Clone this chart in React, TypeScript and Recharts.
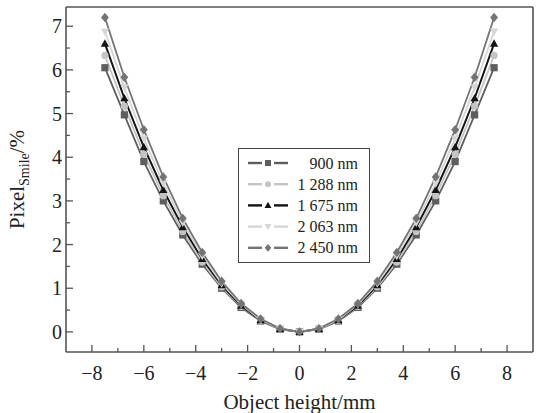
import React from 'react';
import { LineChart, Line, XAxis, YAxis, ReferenceLine } from 'recharts';

// Object height (mm) sample positions
const objectHeight = [-7.5, -6.75, -6, -5.25, -4.5, -3.75, -3, -2.25, -1.5, -0.75, 0, 0.75, 1.5, 2.25, 3, 3.75, 4.5, 5.25, 6, 6.75, 7.5];

// Pixel smile (%) per wavelength
const smile900 = [6.05, 4.97, 3.9, 3.0, 2.22, 1.55, 1.0, 0.56, 0.25, 0.06, 0, 0.06, 0.25, 0.56, 1.0, 1.55, 2.22, 3.0, 3.9, 4.97, 6.05];
const smile1288 = [6.33, 5.17, 4.07, 3.12, 2.3, 1.6, 1.03, 0.58, 0.26, 0.065, 0, 0.065, 0.26, 0.58, 1.03, 1.6, 2.3, 3.12, 4.07, 5.17, 6.33];
const smile1675 = [6.6, 5.35, 4.23, 3.25, 2.4, 1.67, 1.07, 0.6, 0.27, 0.07, 0, 0.07, 0.27, 0.6, 1.07, 1.67, 2.4, 3.25, 4.23, 5.35, 6.6];
const smile2063 = [6.88, 5.6, 4.43, 3.4, 2.5, 1.74, 1.11, 0.63, 0.28, 0.07, 0, 0.07, 0.28, 0.63, 1.11, 1.74, 2.5, 3.4, 4.43, 5.6, 6.88];
const smile2450 = [7.2, 5.83, 4.63, 3.55, 2.6, 1.82, 1.16, 0.65, 0.3, 0.075, 0, 0.075, 0.3, 0.65, 1.16, 1.82, 2.6, 3.55, 4.63, 5.83, 7.2];

const seriesKeys = ['s900', 's1288', 's1675', 's2063', 's2450'];
const seriesNames = ['900 nm', '1 288 nm', '1 675 nm', '2 063 nm', '2 450 nm'];
const seriesColors = ['#5e5e5e', '#c4c4c4', '#141414', '#d6d6d6', '#747474'];
const seriesShapes = ['square', 'circle', 'triangle', 'triangleDown', 'diamond'];

const xTicks = [-8, -7, -6, -5, -4, -3, -2, -1, 0, 1, 2, 3, 4, 5, 6, 7, 8];
const yTicks = [0, 0.5, 1, 1.5, 2, 2.5, 3, 3.5, 4, 4.5, 5, 5.5, 6, 6.5, 7];

const data = objectHeight.map((h, i) => ({
  h,
  s900: smile900[i],
  s1288: smile1288[i],
  s1675: smile1675[i],
  s2063: smile2063[i],
  s2450: smile2450[i],
}));

const FONT = '"Liberation Serif", "Times New Roman", serif';
const AXIS = '#555';

const Marker = ({ shape, cx, cy, color, r = 3.6 }: any) => {
  if (cx == null || cy == null) return null;
  switch (shape) {
    case 'square':
      return <rect x={cx - r} y={cy - r} width={r * 2} height={r * 2} fill={color} />;
    case 'circle':
      return <circle cx={cx} cy={cy} r={r} fill={color} />;
    case 'triangle':
      return <polygon points={`${cx},${cy - r * 1.2} ${cx - r * 1.15},${cy + r * 0.85} ${cx + r * 1.15},${cy + r * 0.85}`} fill={color} />;
    case 'triangleDown':
      return <polygon points={`${cx},${cy + r * 1.2} ${cx - r * 1.15},${cy - r * 0.85} ${cx + r * 1.15},${cy - r * 0.85}`} fill={color} />;
    default:
      return <polygon points={`${cx},${cy - r * 1.3} ${cx + r * 1.1},${cy} ${cx},${cy + r * 1.3} ${cx - r * 1.1},${cy}`} fill={color} />;
  }
};

const XTick = ({ x, y, payload }: any) => {
  const major = payload.value % 2 === 0;
  return (
    <g>
      <line x1={x} y1={y} x2={x} y2={y - (major ? 7 : 4)} stroke={AXIS} strokeWidth={1.3} />
      {major && (
        <text x={x} y={y + 28} textAnchor="middle" fontFamily={FONT} fontSize={20} fill="#222">
          {payload.value < 0 ? `\u2212${Math.abs(payload.value)}` : payload.value}
        </text>
      )}
    </g>
  );
};

const YTick = ({ x, y, payload }: any) => {
  const major = Number.isInteger(payload.value);
  return (
    <g>
      <line x1={x} y1={y} x2={x + (major ? 7 : 4)} y2={y} stroke={AXIS} strokeWidth={1.3} />
      {major && (
        <text x={x - 4} y={y + 7} textAnchor="end" fontFamily={FONT} fontSize={20} fill="#222">
          {payload.value}
        </text>
      )}
    </g>
  );
};

const LegendBox = () => (
  <div
    style={{
      position: 'absolute',
      left: 238,
      top: 148,
      width: 132,
      height: 115,
      border: '1.5px solid #444',
      background: '#fff',
      boxSizing: 'border-box',
    }}
  >
    <svg width={129} height={112} style={{ display: 'block' }}>
      {seriesNames.map((name, i) => {
        const cy = 14 + i * 21.2;
        return (
          <g key={name}>
            <line x1={9} y1={cy} x2={23} y2={cy} stroke={seriesColors[i]} strokeWidth={2.4} />
            <line x1={35} y1={cy} x2={49} y2={cy} stroke={seriesColors[i]} strokeWidth={2.4} />
            <Marker shape={seriesShapes[i]} cx={29} cy={cy} color={seriesColors[i]} r={3} />
            <text x={119} y={cy + 5.5} textAnchor="end" fontFamily={FONT} fontSize={16} fill="#222">
              {name}
            </text>
          </g>
        );
      })}
    </svg>
  </div>
);

export default function App() {
  return (
    <div style={{ position: 'absolute', left: 0, top: 0, width: 544, height: 413, background: '#fff' }}>
      <LineChart width={544} height={413} data={data} margin={{ top: 7, right: 11, left: 0, bottom: 0 }}>
        <XAxis
          dataKey="h"
          type="number"
          domain={[-9, 9]}
          ticks={xTicks}
          interval={0}
          tickSize={0}
          tickMargin={0}
          tickLine={false}
          tick={<XTick />}
          height={61}
          axisLine={{ stroke: AXIS, strokeWidth: 1.6 }}
          label={{
            content: ({ viewBox }: any) => (
              <text x={viewBox.x + viewBox.width / 2} y={viewBox.y + 57} textAnchor="middle" fontFamily={FONT} fontSize={21} fill="#222">
                Object height/mm
              </text>
            ),
          }}
        />
        <YAxis
          type="number"
          domain={[-0.46, 7.44]}
          ticks={yTicks}
          interval={0}
          tickSize={0}
          tickMargin={0}
          tickLine={false}
          tick={<YTick />}
          width={66}
          axisLine={{ stroke: AXIS, strokeWidth: 1.6 }}
          label={{
            content: ({ viewBox }: any) => {
              const cx = 24;
              const cy = viewBox.y + viewBox.height / 2;
              return (
                <text x={cx} y={cy} transform={`rotate(-90, ${cx}, ${cy})`} textAnchor="middle" fontFamily={FONT} fontSize={21} fill="#222">
                  Pixel
                  <tspan fontSize={14} dy={5}>Smile</tspan>
                  <tspan dy={-5}>/%</tspan>
                </text>
              );
            },
          }}
        />
        <ReferenceLine x={9} stroke={AXIS} strokeWidth={1.6} ifOverflow="visible" />
        <ReferenceLine y={7.44} stroke={AXIS} strokeWidth={1.6} ifOverflow="visible" />
        {seriesKeys.map((k, i) => (
          <Line
            key={k}
            dataKey={k}
            name={seriesNames[i]}
            type="linear"
            stroke={seriesColors[i]}
            strokeWidth={i === 2 ? 2 : 1.8}
            isAnimationActive={false}
            dot={(p: any) => <Marker key={`${k}-${p.index}`} shape={seriesShapes[i]} cx={p.cx} cy={p.cy} color={seriesColors[i]} />}
          />
        ))}
      </LineChart>
      <LegendBox />
    </div>
  );
}
